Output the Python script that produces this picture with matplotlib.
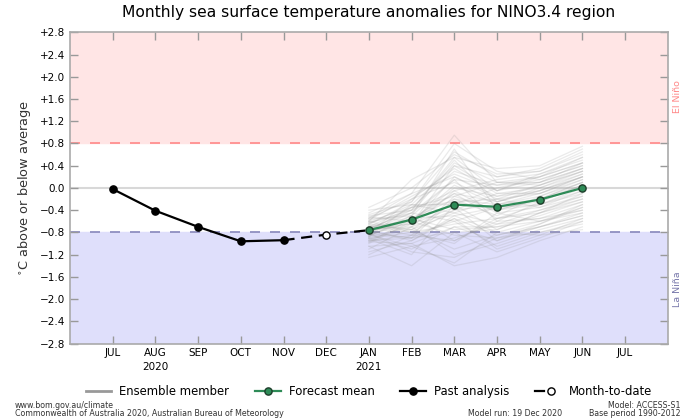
import numpy as np
import matplotlib.pyplot as plt
from matplotlib.lines import Line2D
from matplotlib.legend_handler import HandlerBase

#--------------Data--------------------------#

months = ["JUL", "AUG", "SEP", "OCT", "NOV", "DEC", "JAN", "FEB", "MAR", "APR", "MAY", "JUN", "JUL"]
past_x = [0, 1, 2, 3, 4]
past_vals = [-0.02, -0.41, -0.70, -0.96, -0.94]
mtd_x = [4, 5, 6]
mtd_vals = [-0.94, -0.84, -0.76]
fc_x = [6, 7, 8, 9, 10, 11]
fc_vals = [-0.76, -0.57, -0.30, -0.34, -0.21, 0.00]

# ensemble members (JAN..JUN)
ensemble = [
    [-0.76, -0.55, -0.20, -0.30, -0.10, 0.20],
    [-0.45, -0.10, 0.95, 0.10, 0.05, 0.35],
    [-0.60, 0.15, 0.55, -0.05, 0.20, 0.55],
    [-0.90, -1.10, -0.70, -0.95, -0.70, -0.50],
    [-1.25, -1.05, -1.35, -0.80, -0.85, -0.75],
    [-0.70, -0.35, 0.30, 0.05, 0.10, 0.45],
    [-0.85, -0.60, -0.10, -0.55, -0.30, -0.05],
    [-0.55, -0.20, 0.10, -0.25, 0.00, 0.30],
    [-1.05, -1.40, -0.80, -1.15, -0.90, -0.60],
    [-0.65, -0.75, -0.45, -0.20, -0.35, -0.15],
    [-0.40, -0.30, 0.40, 0.20, 0.35, 0.70],
    [-0.95, -0.85, -0.95, -0.60, -0.55, -0.40],
    [-0.80, -0.50, 0.70, -0.40, -0.20, 0.10],
    [-0.75, -0.95, -0.55, -0.85, -0.65, -0.30],
    [-1.10, -0.70, -1.20, -1.00, -0.75, -0.55],
    [-0.50, -0.40, -0.05, 0.15, 0.25, 0.55],
    [-0.88, -0.30, -0.45, -0.65, -0.40, -0.20],
    [-0.70, -0.65, 0.20, -0.15, -0.05, 0.25],
    [-0.60, -0.80, -1.00, -0.45, -0.60, -0.35],
    [-0.92, -1.20, -0.30, -0.75, -0.45, -0.10],
    [-0.35, 0.00, 0.60, 0.25, 0.30, 0.60],
    [-0.78, -0.45, -0.60, -0.35, -0.25, 0.05],
    [-0.83, -0.90, -0.20, -0.50, -0.15, 0.15],
    [-1.00, -0.60, -0.85, -0.90, -0.80, -0.65],
    [-0.66, -0.25, 0.80, 0.30, 0.15, 0.40],
    [-0.73, -0.70, -0.40, -0.10, -0.10, 0.20],
    [-0.97, -1.00, -1.40, -1.25, -0.95, -0.70],
    [-0.58, -0.15, 0.25, -0.05, 0.25, 0.50],
    [-0.86, -0.55, -0.75, -0.70, -0.50, -0.25],
    [-0.71, -0.85, -0.15, -0.40, -0.30, 0.00],
    [-0.62, -0.45, 0.45, 0.10, 0.10, 0.35],
    [-1.15, -0.95, -0.50, -0.80, -0.60, -0.45],
    [-0.77, -0.35, -0.25, -0.20, 0.05, 0.30],
    [-0.90, -0.75, -1.10, -0.85, -0.70, -0.50],
    [-0.52, -0.60, 0.05, -0.30, -0.20, 0.10],
    [-0.81, -0.20, 0.35, -0.10, 0.00, 0.25],
    [-0.69, -0.80, -0.65, -0.55, -0.40, -0.15],
    [-0.94, -0.65, -0.35, -0.95, -0.65, -0.35],
    [-0.56, -0.50, 0.15, 0.05, 0.20, 0.45],
    [-0.84, -1.05, -0.90, -0.65, -0.55, -0.30],
    [-0.74, -0.40, 0.50, -0.25, -0.05, 0.20],
    [-1.20, -0.85, -0.60, -1.05, -0.80, -0.60],
    [-0.64, -0.30, -0.30, 0.00, 0.15, 0.40],
    [-0.88, -0.70, -0.05, -0.45, -0.35, -0.05],
    [-0.48, -0.25, 0.65, 0.20, 0.30, 0.65],
    [-0.79, -0.90, -0.80, -0.75, -0.45, -0.20],
    [-0.98, -0.55, -0.50, -0.35, -0.30, -0.10],
    [-0.68, -0.60, 0.00, -0.15, 0.05, 0.30],
    [-0.82, -1.15, -1.25, -0.90, -0.70, -0.45],
    [-0.72, -0.45, 0.15, -0.60, -0.25, 0.05],
    [-0.60, -0.35, -0.15, 0.10, 0.20, 0.45],
    [-0.91, -0.80, -0.40, -0.30, -0.15, 0.10],
    [-0.76, -0.65, 0.40, -0.05, 0.10, 0.35],
    [-1.05, -1.00, -0.70, -0.70, -0.60, -0.40],
    [-0.54, -0.10, 0.20, -0.20, -0.10, 0.15],
    [-0.87, -0.50, -0.95, -0.55, -0.45, -0.25],
    [-0.70, -0.75, -0.25, -0.40, -0.20, 0.05],
    [-0.63, -0.40, 0.55, 0.35, 0.40, 0.75],
    [-0.95, -0.90, -0.55, -1.10, -0.85, -0.55],
    [-0.80, -0.55, -0.10, -0.25, -0.05, 0.20],
]

GREEN = "#2e8b57"
MS = 5.2
LW = 1.6


# legend handle for month-to-date: short line, open circle to the right
class MTDHandler(HandlerBase):
    def create_artists(self, legend, orig_handle, xdescent, ydescent, width, height, fontsize, trans):
        y = height / 2 - ydescent
        ln = Line2D([-xdescent, -xdescent + width * 0.35], [y, y], color="black", lw=LW,
                    transform=trans)
        mk = Line2D([-xdescent + width * 0.6], [y], marker="o", ms=MS, mfc="white", mec="black",
                    ls="none", transform=trans)
        return [ln, mk]


#--------------Plot--------------------------#

fig = plt.figure(figsize=(7, 4.2), dpi=100)
ax = fig.add_axes([0.100, 0.182, 0.854, 0.741])

ax.axhspan(0.8, 2.8, color="#ffe5e5", zorder=0)
ax.axhspan(-2.8, -0.8, color="#dfdffb", zorder=0)
ax.axhline(0.8, color="#ff8888", ls=(0, (6, 6)), lw=1.2, zorder=1)
ax.axhline(-0.8, color="#8888bb", ls=(0, (6, 6)), lw=1.2, zorder=1)
ax.axhline(0.0, color="#d8d8d8", lw=1.5, zorder=1)

for mem in ensemble:
    ax.plot(fc_x, mem, color="#999999", alpha=0.2, lw=0.9, zorder=2)

ax.plot(past_x, past_vals, color="black", lw=LW, marker="o", ms=MS, zorder=4)
ax.plot(mtd_x, mtd_vals, color="black", lw=LW, ls=(0, (5, 3)), zorder=4)
ax.plot([5], [mtd_vals[1]], marker="o", ms=MS, mfc="white", mec="black", zorder=5)
ax.plot(fc_x, fc_vals, color=GREEN, lw=LW, marker="o", ms=MS, mfc=GREEN, mec="#1d3d2a", zorder=5)

ax.set_xlim(-1, 13)
ax.set_ylim(-2.8, 2.8)
ax.set_xticks(range(len(months)))
ax.set_xticklabels(months, fontsize=7.5)
yt = np.arange(-2.8, 2.81, 0.4)
ax.set_yticks(yt)
ax.set_yticklabels(["0.0" if abs(v) < 1e-9 else ("%+.1f" % v).replace("-", "\u2212") for v in yt],
                   fontsize=7.5)
ax.tick_params(direction="in", top=True, right=True, color="#999999", length=6, width=1)
for s in ax.spines.values():
    s.set_color("#aaaaaa")
    s.set_linewidth(1.2)

ax.text(1, -0.058, "2020", transform=ax.get_xaxis_transform(), ha="center", va="top", fontsize=7.5)
ax.text(6, -0.058, "2021", transform=ax.get_xaxis_transform(), ha="center", va="top", fontsize=7.5)

ax.set_ylabel("$^{\\circ}$C above or below average", fontsize=9.3, labelpad=5, color="#333333")
ax.set_title("Monthly sea surface temperature anomalies for NINO3.4 region", fontsize=11.2, pad=11)

ax.text(1.016, 1.64, "El Niño", transform=ax.get_yaxis_transform(), rotation=90,
        ha="center", va="center", color="#ff8888", fontsize=6.8)
ax.text(1.016, -1.83, "La Niña", transform=ax.get_yaxis_transform(), rotation=90,
        ha="center", va="center", color="#7777aa", fontsize=6.8)

handles = [
    Line2D([], [], color="#999999", lw=2),
    Line2D([], [], color=GREEN, lw=LW, marker="o", ms=MS, mfc=GREEN, mec="#1d3d2a"),
    Line2D([], [], color="black", lw=LW, marker="o", ms=MS),
    Line2D([], [], color="black"),
]
labels = ["Ensemble member", "Forecast mean", "Past analysis", "Month-to-date"]
fig.legend(handles, labels, loc="center", bbox_to_anchor=(0.527, 0.067), ncol=4,
           frameon=False, fontsize=8.4, handlelength=2.2, columnspacing=2.2, handletextpad=0.7,
           handler_map={handles[3]: MTDHandler()})

fig.text(15 / 700, 1 - 405 / 420, "www.bom.gov.au/climate", fontsize=5.7, va="center", color="#333333")
fig.text(15 / 700, 1 - 413 / 420, "Commonwealth of Australia 2020, Australian Bureau of Meteorology",
         fontsize=5.7, va="center", color="#333333")
fig.text(562 / 700, 1 - 413 / 420, "Model run: 19 Dec 2020", fontsize=5.7, va="center", ha="right",
         color="#333333")
fig.text(681 / 700, 1 - 405 / 420, "Model: ACCESS-S1", fontsize=5.7, va="center", ha="right", color="#333333")
fig.text(681 / 700, 1 - 413 / 420, "Base period 1990-2012", fontsize=5.7, va="center", ha="right",
         color="#333333")

plt.savefig("out.png", dpi=100)
